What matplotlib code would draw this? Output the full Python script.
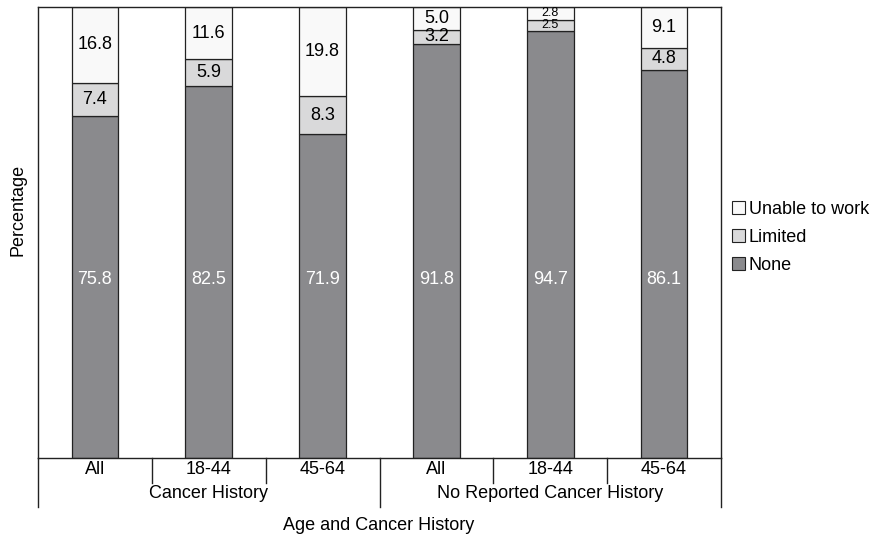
import matplotlib.pyplot as plt
import matplotlib.transforms as mtransforms
from matplotlib.patches import Patch
import numpy as np

ages = ["All", "18-44", "45-64", "All", "18-44", "45-64"]
groups = ["Cancer History", "No Reported Cancer History"]
none_pct = [75.8, 82.5, 71.9, 91.8, 94.7, 86.1]
limited_pct = [7.4, 5.9, 8.3, 3.2, 2.5, 4.8]
unable_pct = [16.8, 11.6, 19.8, 5.0, 2.8, 9.1]

COL_NONE = "#8a8a8d"
COL_LIM = "#d9d9da"
COL_UNABLE = "#f9f9f9"
FS = 13

plt.rcParams["font.family"] = ["Liberation Sans", "DejaVu Sans"]

fig = plt.figure(figsize=(8.75, 5.42), dpi=100)
ax = fig.add_axes([38 / 875, 84 / 542, 683 / 875, 451 / 542])

x = np.arange(len(ages))
none_arr = np.array(none_pct)
lim_arr = np.array(limited_pct)
un_arr = np.array(unable_pct)
w = 0.41
kw = dict(width=w, edgecolor="#222222", linewidth=0.9)
ax.bar(x, none_arr, color=COL_NONE, **kw)
ax.bar(x, lim_arr, bottom=none_arr, color=COL_LIM, **kw)
ax.bar(x, un_arr, bottom=none_arr + lim_arr, color=COL_UNABLE, **kw)

for i in x:
    ax.text(i, 39.5, f"{none_arr[i]:.1f}", ha="center", va="center",
            color="white", fontsize=FS)
    small = lim_arr[i] < 3 or un_arr[i] < 3
    fs = 9 if small else FS
    ax.text(i, none_arr[i] + lim_arr[i] / 2, f"{lim_arr[i]:.1f}",
            ha="center", va="center", fontsize=fs)
    ax.text(i, none_arr[i] + lim_arr[i] + un_arr[i] / 2, f"{un_arr[i]:.1f}",
            ha="center", va="center", fontsize=fs)

ax.set_xlim(-0.5, len(ages) - 0.5)
ax.set_ylim(0, 100)
ax.set_xticks([])
ax.set_yticks([])
for s in ax.spines.values():
    s.set_linewidth(1.0)
    s.set_color("#222222")

# category table below the axis
trans = mtransforms.blended_transform_factory(ax.transData, fig.transFigure)
y0 = 84 / 542
y_tick = (542 - 483) / 542
y_grp = (542 - 507) / 542
line_kw = dict(color="#222222", linewidth=1.0, transform=trans, clip_on=False)
for b in np.arange(0.5, len(ages) - 1, 1.0):
    bottom = y_grp if b == 2.5 else y_tick
    ax.add_line(plt.Line2D([b, b], [y0, bottom], **line_kw))
for b in [-0.5, len(ages) - 0.5]:
    ax.add_line(plt.Line2D([b, b], [y0, y_grp], **line_kw))

for i, lab in enumerate(ages):
    ax.text(i, (542 - 470) / 542, lab, ha="center", va="center",
            fontsize=FS, transform=trans)
for g, lab in enumerate(groups):
    ax.text(1 + 3 * g, (542 - 494) / 542, lab, ha="center", va="center",
            fontsize=FS, transform=trans)

fig.text(379 / 875, (542 - 526) / 542, "Age and Cancer History",
         ha="center", va="center", fontsize=FS)
fig.text(18 / 875, (542 - 210) / 542, "Percentage", ha="center",
         va="center", rotation=90, fontsize=FS)

handles = [Patch(facecolor=COL_UNABLE, edgecolor="#222222", linewidth=0.8),
           Patch(facecolor=COL_LIM, edgecolor="#222222", linewidth=0.8),
           Patch(facecolor=COL_NONE, edgecolor="#222222", linewidth=0.8)]
fig.legend(handles, ["Unable to work", "Limited", "None"],
           loc="upper left", bbox_to_anchor=(728 / 875, (542 - 197) / 542),
           frameon=False, fontsize=FS, handlelength=0.75, handleheight=0.75,
           handletextpad=0.2, labelspacing=0.62, borderaxespad=0,
           borderpad=0.2)

fig.savefig("out.png", dpi=100)
